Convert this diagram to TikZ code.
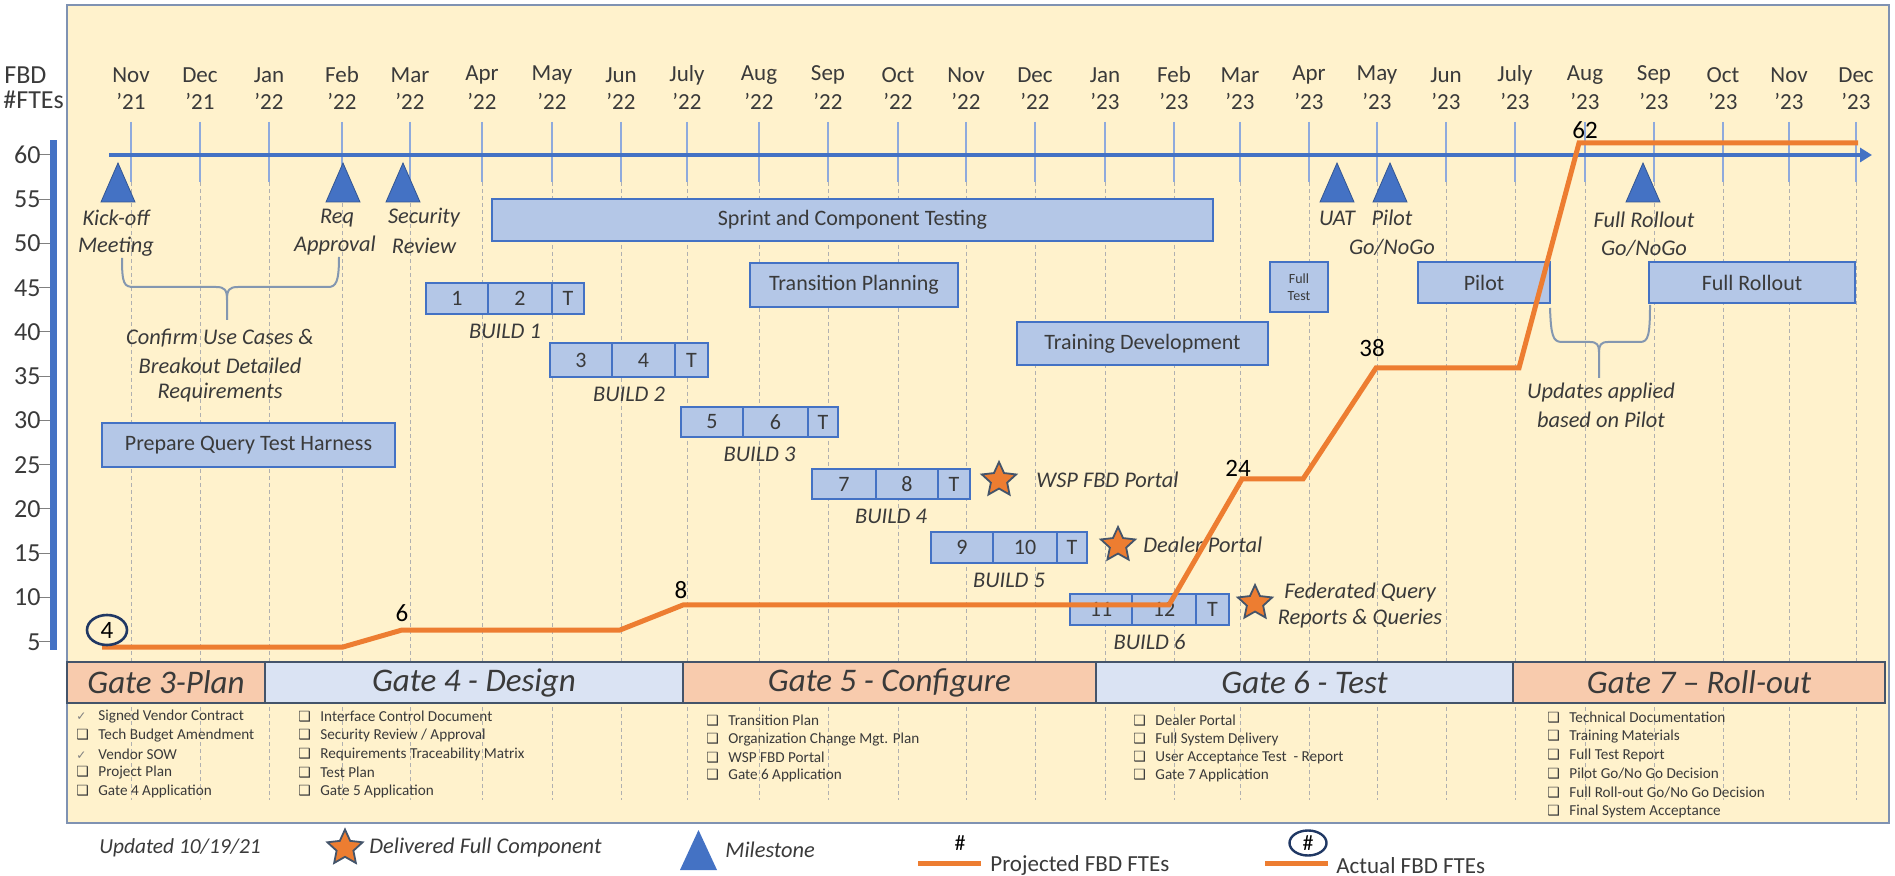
\documentclass[tikz,border=0pt]{standalone}
\usepackage{fontspec}
\setmainfont{Carlito}
\newfontfamily\symfont{DejaVu Sans}
\usetikzlibrary{shapes.geometric,arrows.meta}
\definecolor{panelbg}{HTML}{FFF2CC}
\definecolor{pborder}{HTML}{7F92B2}
\definecolor{mblue}{HTML}{4472C4}
\definecolor{lblue}{HTML}{B4C7E7}
\definecolor{gblue}{HTML}{DAE3F3}
\definecolor{gorange}{HTML}{F8CBAD}
\definecolor{orng}{HTML}{ED7D31}
\definecolor{slate}{HTML}{44546A}
\definecolor{txtc}{HTML}{3A3A3A}
\definecolor{tickc}{HTML}{8FAADC}
\definecolor{dashc}{HTML}{B0B0B0}
\definecolor{brc}{HTML}{8497B0}
\definecolor{navy}{HTML}{203864}
\newcommand\ckmark{\makebox[11pt][l]{\symfont\fontsize{6}{6}\selectfont\textcolor{gray}{✓}}}
\newcommand\boxmark{\makebox[11pt][l]{\symfont\fontsize{7}{7}\selectfont ❑}}
\newcommand\mybox[6]{\node[pbx,anchor=north west,minimum width={(#4-#2)*0.5pt},minimum height={(#5-#3)*0.5pt}] (#1) at (#2,#3) {#6};}
\newcommand\build[9]{%
  \mybox{b#1a}{#4}{#2}{#5}{#3}{#8}
  \mybox{b#1b}{#5}{#2}{#6}{#3}{#9}
  \mybox{b#1t}{#6}{#2}{#7}{#3}{T}
  \node[lbl] (b#1lab) at ({(#4+#7)/2},{#3+17}) {BUILD #1};}
\newcommand\mstone[1]{\fill[mblue,draw=mblue!75!black,line width=0.4pt] ({#1-17},202) -- (#1,163) -- ({#1+17},202) -- cycle;}
\begin{document}
\begin{tikzpicture}[x=0.5pt,y=-0.5pt,
  lbl/.style={font=\fontsize{11.2}{13}\selectfont\itshape,text=txtc,inner sep=0pt},
  pbx/.style={draw=mblue,fill=lblue,line width=0.8pt,text=txtc,inner sep=0pt,outer sep=0pt,font=\fontsize{11}{13}\selectfont},
  gatebox/.style={draw=slate,line width=1pt,inner sep=0pt,outer sep=0pt,anchor=north west,minimum height=20.5pt,font=\fontsize{16.5}{18}\selectfont\itshape,text=txtc},
  startag/.style={star,star points=5,star point ratio=2.1,fill=orng,draw=slate,line width=0.9pt,minimum size=18pt,inner sep=0pt},
  fte/.style={draw=orng,line width=2.5pt},
  num/.style={font=\fontsize{12.5}{14}\selectfont,inner sep=0pt,text=black},
  li/.style={font=\fontsize{7.6}{9}\selectfont,text=txtc,inner sep=0pt,anchor=west},
  mon/.style={font=\fontsize{11.5}{13}\selectfont,text=txtc,inner sep=0pt}]
\useasboundingbox (0,0) rectangle (1895,876);
\fill[white] (0,0) rectangle (1895,876);
% panel
\draw[fill=panelbg,draw=pborder,line width=1.3pt] (67,5) rectangle (1889,823);
% month grid
\foreach \x/\mo/\yr [count=\i] in {131/Nov/21,200/Dec/21,269/Jan/22,342/Feb/22,410/Mar/22,482/Apr/22,552/May/22,621/Jun/22,687/July/22,759/Aug/22,828/Sep/22,898/Oct/22,966/Nov/22,1035/Dec/22,1105/Jan/23,1174/Feb/23,1240/Mar/23,1309/Apr/23,1377/May/23,1446/Jun/23,1515/July/23,1585/Aug/23,1654/Sep/23,1723/Oct/23,1789/Nov/23,1856/Dec/23}{
  \draw[dashc,line width=0.5pt,dash pattern=on 2pt off 1.5pt] (\x,182) -- (\x,800);
  \draw[tickc,line width=0.7pt] (\x,122) -- (\x,182);
  \node[mon] (mon\i) at (\x,75) {\mo};
  \node[mon] (yr\i) at (\x,101) {'\yr};
}
% time axis
\draw[mblue,line width=2.2pt,-{Triangle[length=6pt,width=7pt]}] (109,155) -- (1872,155);
% y axis
\node[font=\fontsize{13}{15}\selectfont,anchor=west,inner sep=0pt,text=txtc] (fbd) at (4,75) {FBD};
\node[font=\fontsize{13}{15}\selectfont,anchor=west,inner sep=0pt,text=txtc] (ftes) at (3,100) {\#FTEs};
\fill[mblue] (50,140) rectangle (57,650);
\foreach \v in {5,10,...,60}{
  \draw[gray,line width=0.5pt] (39,{155+(60-\v)*8.85}) -- (50,{155+(60-\v)*8.85});
  \node[anchor=east,inner sep=0pt,font=\fontsize{13}{15}\selectfont,text=txtc] (ylab\v) at (41,{155+(60-\v)*8.85}) {\v};
}
% braces
\draw[brc,line width=1pt] (122,258) .. controls (122,284) and (124,287) .. (134,287) -- (216,287) .. controls (225,287) and (227,290) .. (227,300) -- (227,320);
\draw[brc,line width=1pt] (227,300) .. controls (227,290) and (229,287) .. (238,287) -- (328,287) .. controls (336,287) and (339,282) .. (339,257);
\draw[brc,line width=1pt] (1550,308) .. controls (1551,336) and (1553,342) .. (1562,342) -- (1590,342) .. controls (1597,342) and (1599,345) .. (1599,352) -- (1599,378);
\draw[brc,line width=1pt] (1599,352) .. controls (1599,345) and (1601,342) .. (1608,342) -- (1640,342) .. controls (1648,342) and (1650,336) .. (1650,305);
\node[lbl] (conf1) at (220,338) {Confirm Use Cases \&};
\node[lbl] (conf2) at (220,366) {Breakout Detailed};
\node[lbl] (conf3) at (220,393) {Requirements};
\node[lbl] (upd1) at (1601,393) {Updates applied};
\node[lbl] (upd2) at (1601,420) {based on Pilot};
% activity boxes
\mybox{harness}{102}{423}{395}{467}{Prepare Query Test Harness}
\mybox{sprint}{492}{199}{1213}{241}{Sprint and Component Testing}
\mybox{trans}{750}{263}{958}{307}{Transition Planning}
\mybox{train}{1017}{322}{1268}{365}{Training Development}
\node[pbx,anchor=north west,minimum width=29pt,minimum height=25pt,align=center,font=\fontsize{7}{8.5}\selectfont] (fulltest) at (1270,262) {Full\\Test};
\mybox{pilot}{1418}{262}{1550}{303}{Pilot}
\mybox{fullroll}{1649}{262}{1855}{303}{Full Rollout}
% builds
\build{1}{283}{314}{426}{488}{552}{584}{1}{2}
\build{2}{343}{377}{550}{612}{675}{708}{3}{4}
\build{3}{407}{437}{681}{743}{808}{838}{5}{6}
\build{4}{469}{499}{812}{876}{938}{970}{7}{8}
\build{5}{532}{563}{931}{993}{1057}{1087}{9}{10}
\build{6}{594}{625}{1070}{1132}{1196}{1229}{11}{12}
% delivered components
\node[startag] (s1) at (999,480) {};
\node[lbl,anchor=west] (s1t) at (1036,480) {WSP FBD Portal};
\node[startag] (s2) at (1118,545) {};
\node[lbl,anchor=west] (s2t) at (1143,545) {Dealer Portal};
\node[startag] (s3) at (1255,603) {};
\node[lbl] (s3a) at (1360,593) {Federated Query};
\node[lbl] (s3b) at (1360,619) {Reports \& Queries};
% milestones
\mstone{118}\mstone{343}\mstone{403}\mstone{1337}\mstone{1390}\mstone{1643}
\node[lbl] (m1a) at (116,218) {Kick-off};
\node[lbl] (m1b) at (116,247) {Meeting};
\node[lbl] (m2a) at (337,218) {Req};
\node[lbl] (m2b) at (335,246) {Approval};
\node[lbl] (m3a) at (424,218) {Security};
\node[lbl] (m3b) at (424,246) {Review};
\node[lbl] (m4a) at (1337,218) {UAT};
\node[lbl] (m5a) at (1392,218) {Pilot};
\node[lbl] (m5b) at (1392,247) {Go/NoGo};
\node[lbl] (m6a) at (1644,220) {Full Rollout};
\node[lbl] (m6b) at (1644,248) {Go/NoGo};
% FTE line
\coordinate (p0) at (102,647); \coordinate (p1) at (343,647);
\coordinate (p2) at (402,630); \coordinate (p3) at (620,630);
\coordinate (p4) at (683,605); \coordinate (p5) at (1169,605);
\coordinate (p6) at (1242,479); \coordinate (p7) at (1303,479);
\coordinate (p8) at (1376,368); \coordinate (p9) at (1519,368);
\coordinate (p10) at (1579,143); \coordinate (p11) at (1858,143);
\draw[fte] (p0) -- (p1) -- (p2) -- (p3) -- (p4) -- (p5) -- (p6) -- (p7) -- (p8) -- (p9) -- (p10) -- (p11);
\node[num,ellipse,draw=navy,line width=1.3pt,minimum width=20pt,minimum height=15pt] (n4) at (107,630) {4};
\node[num] (n6) at (402,613) {6};
\node[num] (n8) at (681,590) {8};
\node[num] (n24) at (1238,468) {24};
\node[num] (n38) at (1372,348) {38};
\node[num] (n62) at (1585,130) {62};
% gates
\node[gatebox,fill=gorange,minimum width={(265-67)*0.5pt}] (g3) at (67,662) {Gate 3-Plan};
\node[gatebox,fill=gblue,minimum width={(683-265)*0.5pt}] (g4) at (265,662) {Gate 4 - Design};
\node[gatebox,fill=gorange,minimum width={(1096-683)*0.5pt}] (g5) at (683,662) {Gate 5 - Configure};
\node[gatebox,fill=gblue,minimum width={(1513-1096)*0.5pt}] (g6) at (1096,662) {Gate 6 - Test};
\node[gatebox,fill=gorange,minimum width={(1885-1513)*0.5pt}] (g7) at (1513,662) {Gate 7 -- Roll-out};
% gate lists
\foreach \t [count=\i from 0] in {\ckmark Signed Vendor Contract,\boxmark Tech Budget Amendment,\ckmark Vendor SOW,\boxmark Project Plan,\boxmark Gate 4 Application}
  \node[li] (l3\i) at (76,{717+\i*18.5}) {\t};
\foreach \t [count=\i from 0] in {\boxmark Interface Control Document,\boxmark Security Review / Approval,\boxmark Requirements Traceability Matrix,\boxmark Test Plan,\boxmark Gate 5 Application}
  \node[li] (l4\i) at (298,{717+\i*18.5}) {\t};
\foreach \t [count=\i from 0] in {\boxmark Transition Plan,\boxmark Organization Change Mgt. Plan,\boxmark WSP FBD Portal,\boxmark Gate 6 Application}
  \node[li] (l5\i) at (706,{721+\i*18.3}) {\t};
\foreach \t [count=\i from 0] in {\boxmark Dealer Portal,\boxmark Full System Delivery,\boxmark User Acceptance Test\ \ - Report,\boxmark Gate 7 Application}
  \node[li] (l6\i) at (1133,{721+\i*18.3}) {\t};
\foreach \t [count=\i from 0] in {\boxmark Technical Documentation,\boxmark Training Materials,\boxmark Full Test Report,\boxmark Pilot Go/No Go Decision,\boxmark Full Roll-out Go/No Go Decision,\boxmark Final System Acceptance}
  \node[li] (l7\i) at (1547,{718+\i*18.6}) {\t};
% legend
\node[lbl,font=\fontsize{10.7}{13}\selectfont\itshape] (upd) at (180,848) {Updated 10/19/21};
\node[startag,minimum size=18.5pt] (lstar) at (345,848) {};
\node[lbl,anchor=west] (ldel) at (369,848) {Delivered Full Component};
\fill[mblue] (680,870) -- (698.5,830) -- (717,870) -- cycle;
\node[lbl,anchor=west] (lmil) at (725,850) {Milestone};
\node[num,font=\fontsize{11}{13}\selectfont] (lh1) at (960,843) {\#};
\coordinate (lp0) at (918,863); \coordinate (lp1) at (981,863);
\draw[fte] (lp0) -- (lp1);
\node[anchor=west,inner sep=0pt,font=\fontsize{11.5}{13}\selectfont,text=txtc] (lproj) at (990,865) {Projected FBD FTEs};
\node[num,font=\fontsize{11}{13}\selectfont,ellipse,draw=navy,line width=1.2pt,minimum width=18.5pt,minimum height=12.5pt] (lh2) at (1308,843) {\#};
\coordinate (la0) at (1265,863); \coordinate (la1) at (1328,863);
\draw[fte] (la0) -- (la1);
\node[anchor=west,inner sep=0pt,font=\fontsize{11.5}{13}\selectfont,text=txtc] (lact) at (1336,866) {Actual FBD FTEs};
\end{tikzpicture}
\end{document}
